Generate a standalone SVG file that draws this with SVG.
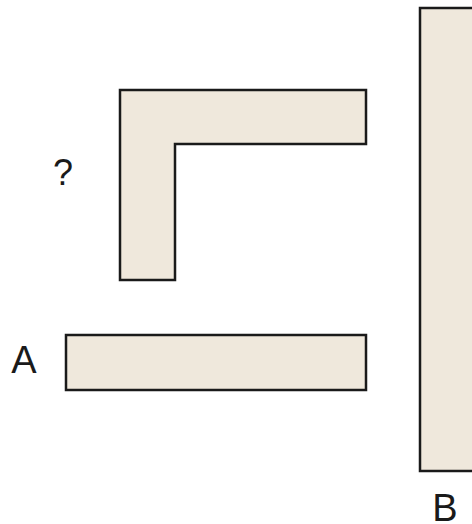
<svg xmlns="http://www.w3.org/2000/svg" width="472" height="524" viewBox="0 0 472 524">
<style>
.shape{fill:#efe8dc;stroke:#1a1a1a;stroke-width:2.5}
.lbl{font-family:"Liberation Sans",Arial,sans-serif;font-size:38px;fill:#1a1a1a}
</style>
<rect width="472" height="524" fill="#ffffff"/>
<g id="L">
<polygon class="shape" points="120,90 366,90 366,144 175,144 175,280 120,280"/>
<text class="lbl" x="63" y="185" text-anchor="middle" style="font-size:36px">?</text>
</g>
<g id="A">
<rect class="shape" x="66" y="335" width="300" height="55"/>
<text class="lbl" x="24" y="373" text-anchor="middle">A</text>
</g>
<g id="B">
<rect class="shape" x="420" y="8" width="60" height="463"/>
<text class="lbl" x="445" y="521" text-anchor="middle">B</text>
</g>
<g id="connectors"/>
</svg>
